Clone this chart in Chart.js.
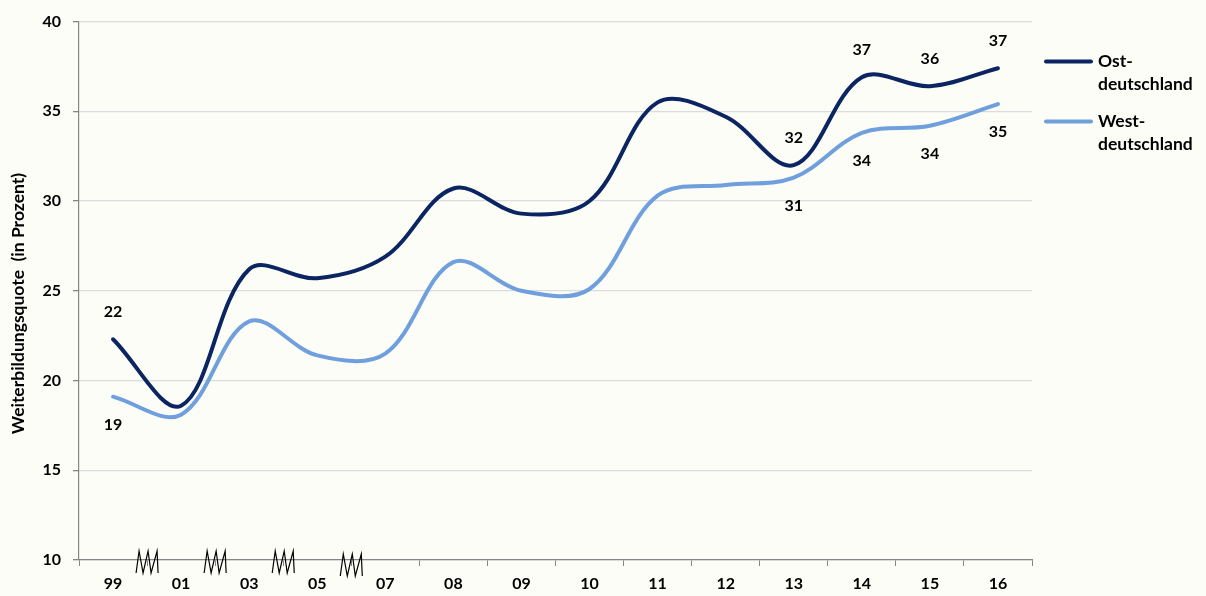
<!DOCTYPE html>
<html lang="de">
<head>
<meta charset="utf-8" />
<title>Weiterbildungsquote Ost/West</title>
<script src="https://cdn.jsdelivr.net/npm/chart.js@4.4.1/dist/chart.umd.min.js"></script>
<style>
  body { margin: 0; background: #fdfdf8; }
  #wrap { width: 1206px; height: 596px; }
</style>
</head>
<body>
<div id="wrap"><canvas id="chart" width="1206" height="596"></canvas></div>
<script>
// Jahre (x-Achse)
var years = ['99', '01', '03', '05', '07', '08', '09', '10', '11', '12', '13', '14', '15', '16'];
// Weiterbildungsquote in Prozent
var ostValues  = [22.3, 18.6, 26.2, 25.7, 26.9, 30.7, 29.3, 30.0, 35.5, 34.7, 32.0, 36.9, 36.4, 37.4];
var westValues = [19.1, 18.1, 23.3, 21.4, 21.5, 26.6, 25.0, 25.1, 30.3, 30.9, 31.3, 33.8, 34.2, 35.4];
var seriesNames = ['Ost-\ndeutschland', 'West-\ndeutschland'];
// Punkte mit Zahlenbeschriftung
var labelIndex = [0, 10, 11, 12, 13];
// Achsenbruch zwischen diesen Jahren (Index des linken Jahres)
var breakAfter = [0, 1, 2, 3];
var yTicks = [10, 15, 20, 25, 30, 35, 40];

var FONT = 'Lato, "Open Sans", sans-serif';

// Datenbeschriftungen, Achsenbrueche und Legende
var extras = {
  id: 'extras',
  afterDatasetsDraw: function(chart) {
    var ctx = chart.ctx;
    var area = chart.chartArea;
    ctx.save();
    ctx.font = 'bold 16px ' + FONT;
    ctx.fillStyle = '#000';
    ctx.textAlign = 'center';
    ctx.textBaseline = 'middle';
    chart.data.datasets.forEach(function(ds, d) {
      var meta = chart.getDatasetMeta(d);
      labelIndex.forEach(function(i) {
        var p = meta.data[i];
        var dy = d === 0 ? -27 : 28;
        ctx.fillText(Math.round(ds.data[i]), p.x, p.y + dy);
      });
    });

    // Bruchzeichen auf der x-Achse
    var xs = chart.scales.x;
    ctx.strokeStyle = '#000';
    ctx.lineWidth = 1.2;
    ctx.lineJoin = 'miter';
    breakAfter.forEach(function(i, k) {
      var cx = xs.getPixelForValue(i + 0.5);
      var shift = k === 3 ? 3 : 0;
      var top = area.bottom - 9 + shift;
      var bot = area.bottom + 13 + shift;
      ctx.beginPath();
      ctx.moveTo(cx - 11, bot);
      ctx.lineTo(cx - 8, top);
      ctx.lineTo(cx - 4, bot);
      ctx.lineTo(cx + 1, top);
      ctx.lineTo(cx + 4, bot);
      ctx.lineTo(cx + 10, top);
      ctx.lineTo(cx + 11, bot);
      ctx.stroke();
    });

    // Legende rechts
    ctx.textAlign = 'left';
    ctx.font = 'bold 17.5px ' + FONT;
    chart.data.datasets.forEach(function(ds, d) {
      var y = area.top + 40 + d * 60;
      var lx = area.right + 14;
      ctx.strokeStyle = ds.borderColor;
      ctx.lineWidth = 4;
      ctx.lineCap = 'round';
      ctx.beginPath();
      ctx.moveTo(lx, y);
      ctx.lineTo(lx + 45, y);
      ctx.stroke();
      ctx.fillStyle = '#000';
      seriesNames[d].split('\n').forEach(function(line, j) {
        ctx.fillText(line, lx + 52, y + j * 23);
      });
    });
    ctx.restore();
  }
};

var bg = {
  id: 'bg',
  beforeDraw: function(chart) {
    var ctx = chart.ctx;
    ctx.save();
    ctx.fillStyle = '#fdfdf8';
    ctx.fillRect(0, 0, chart.width, chart.height);
    ctx.restore();
  }
};

new Chart(document.getElementById('chart'), {
  type: 'line',
  data: {
    labels: years,
    datasets: [{
      label: 'Ostdeutschland',
      data: ostValues,
      borderColor: '#0b2562',
      borderWidth: 4,
      borderCapStyle: 'round',
      pointRadius: 0,
      tension: 0.35,
      fill: false
    }, {
      label: 'Westdeutschland',
      data: westValues,
      borderColor: '#6f9fdc',
      borderWidth: 4,
      borderCapStyle: 'round',
      pointRadius: 0,
      tension: 0.35,
      fill: false
    }]
  },
  options: {
    responsive: false,
    animation: false,
    layout: { padding: { top: 19, right: 174, left: 0, bottom: 0 } },
    plugins: {
      legend: { display: false },
      tooltip: { enabled: false }
    },
    scales: {
      x: {
        offset: true,
        grid: {
          offset: true,
          drawOnChartArea: false,
          drawTicks: true,
          tickLength: 6,
          tickColor: '#868686'
        },
        border: { color: '#868686', width: 1.2 },
        ticks: {
          color: '#000',
          font: { family: FONT, size: 16, weight: 'bold' },
          padding: 8,
          maxRotation: 0,
          autoSkip: false
        },
        afterFit: function(s) { s.height = 36; }
      },
      y: {
        min: 10,
        max: 40,
        afterBuildTicks: function(s) { s.ticks = yTicks.map(function(v) { return { value: v }; }); },
        grid: {
          color: '#dcdcdc',
          lineWidth: 1.3,
          tickLength: 6,
          tickColor: '#868686'
        },
        border: { color: '#868686', width: 1.2 },
        ticks: {
          color: '#000',
          font: { family: FONT, size: 16, weight: 'bold' },
          padding: 12
        },
        title: {
          display: true,
          text: 'Weiterbildungsquote  (in Prozent)      ',
          color: '#000',
          font: { family: FONT, size: 17.5, weight: 'bold' },
          padding: { top: 8, bottom: 0 }
        },
        afterFit: function(s) { s.width = 79; }
      }
    }
  },
  plugins: [bg, extras]
});
</script>
</body>
</html>
